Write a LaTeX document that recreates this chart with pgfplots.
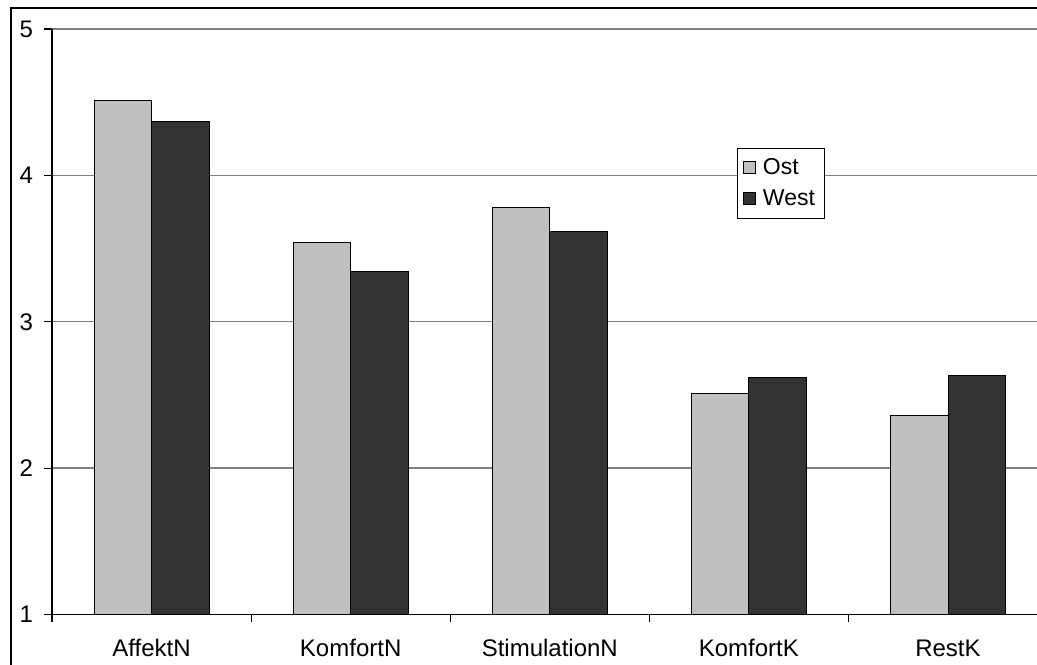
\documentclass[border=0pt]{standalone}
\usepackage{pgfplots}
\pgfplotsset{compat=1.18}
\usepackage{fontspec}
\setmainfont{Liberation Sans}
\definecolor{ost}{HTML}{C0C0C0}
\definecolor{west}{HTML}{333333}
\definecolor{gridgray}{HTML}{808080}

\begin{document}
\begin{tikzpicture}
% 1 px of the reference = 0.5pt
\useasboundingbox (0,0) rectangle (518.5pt,-332pt);
\draw[line width=0.6pt] (5.5pt,-340pt) -- (5.5pt,-4pt) -- (530pt,-4pt);
\begin{axis}[
  at={(26pt,-307.25pt)}, anchor=south west,
  scale only axis, width=492.5pt, height=292.75pt,
  xmin=-0.5, xmax=4.447,
  ymin=1, ymax=5,
  ybar=0pt, bar width=28.75pt,
  axis x line*=bottom, axis y line*=left,
  axis line style={-, line width=0.6pt, black},
  xtick={0,...,4},
  xticklabels={AffektN,KomfortN,StimulationN,KomfortK,RestK},
  minor xtick={-0.5,0.5,1.5,2.5,3.5},
  ytick={1,2,3,4,5},
  yticklabels={1,2,3,4,5},
  tick align=outside,
  major x tick style={draw=none},
  minor tick length=3.5pt, major tick length=4pt,
  tick style={black, line width=0.6pt},
  ymajorgrids, grid style={gridgray, line width=0.65pt},
  /pgf/number format/assume math mode=true,
  ticklabel style={font=\fontsize{12}{14}\selectfont},
  yticklabel style={xshift=-2pt},
  xticklabel style={yshift=-5pt},
  legend style={at={(0.695,0.797)}, anchor=north west, draw=black,
    line width=0.5pt, font=\fontsize{11.5}{13}\selectfont,
    row sep=2pt, inner sep=3pt},
  legend image code/.code={\draw[#1, line width=0.4pt] (0pt,-3pt) rectangle (6pt,3pt);
    \path (7.5pt,0pt);},
  legend cell align=left,
]
\addplot[fill=ost, draw=black, line width=0.5pt] coordinates {
  (0,4.51) (1,3.54) (2,3.78) (3,2.51) (4,2.36)
};
\addlegendentry{Ost}
\addplot[fill=west, draw=black, line width=0.5pt] coordinates {
  (0,4.37) (1,3.34) (2,3.62) (3,2.62) (4,2.63)
};
\addlegendentry{West}
\end{axis}
\end{tikzpicture}
\end{document}
